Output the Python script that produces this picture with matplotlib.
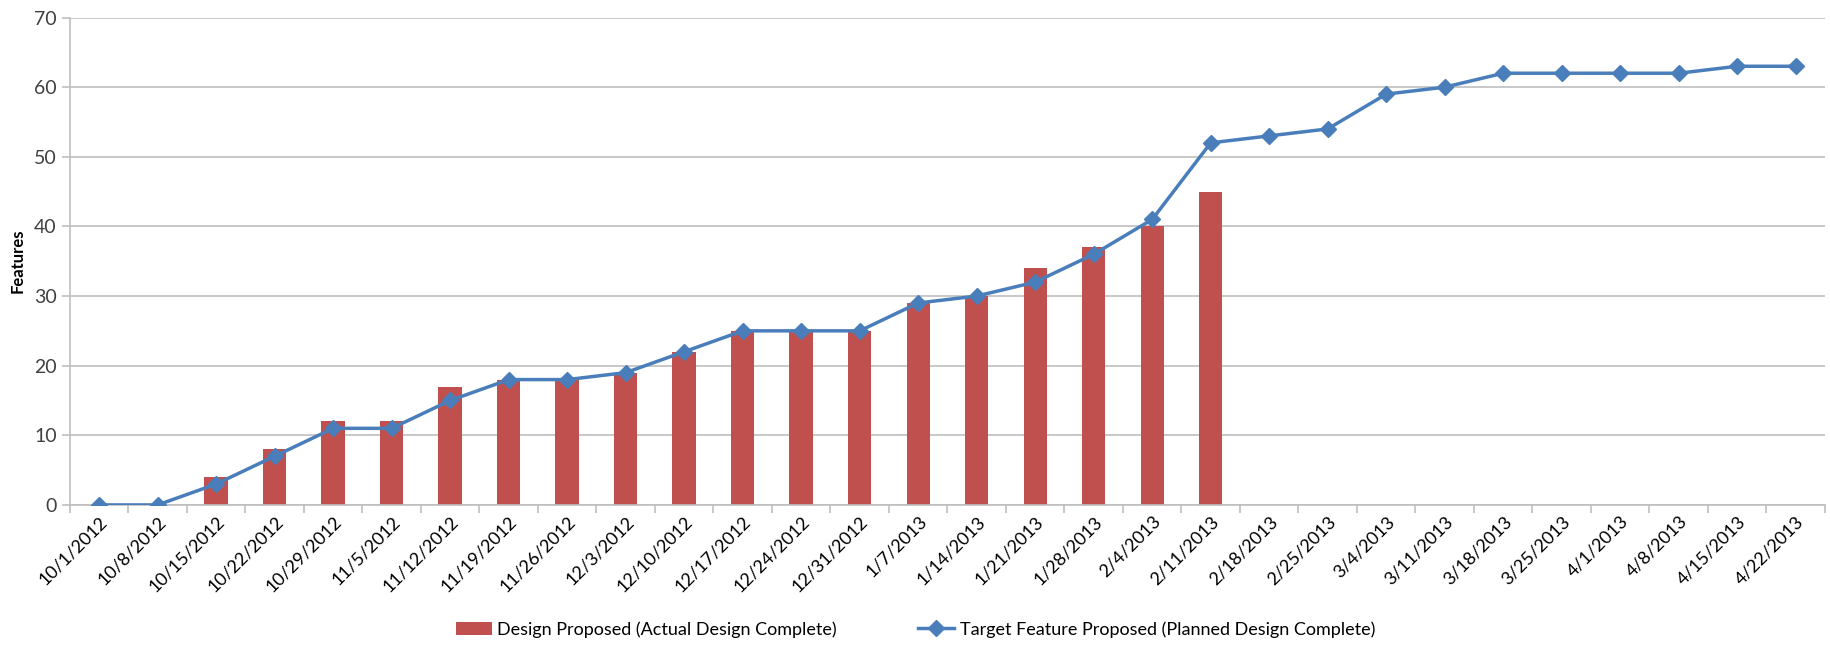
import numpy as np
import matplotlib.pyplot as plt
from matplotlib.ticker import FixedLocator

plt.rcParams['font.family'] = ['Lato', 'DejaVu Sans']

weeks = ['10/1/2012', '10/8/2012', '10/15/2012', '10/22/2012', '10/29/2012', '11/5/2012',
         '11/12/2012', '11/19/2012', '11/26/2012', '12/3/2012', '12/10/2012', '12/17/2012',
         '12/24/2012', '12/31/2012', '1/7/2013', '1/14/2013', '1/21/2013', '1/28/2013',
         '2/4/2013', '2/11/2013', '2/18/2013', '2/25/2013', '3/4/2013', '3/11/2013',
         '3/18/2013', '3/25/2013', '4/1/2013', '4/8/2013', '4/15/2013', '4/22/2013']

# actual design complete (bars), only up to 2/11/2013
actual = [0, 0, 4, 8, 12, 12, 17, 18, 18, 19, 22, 25, 25, 25, 29, 30, 34, 37, 40, 45]

# planned design complete (line)
planned = [0, 0, 3, 7, 11, 11, 15, 18, 18, 19, 22, 25, 25, 25, 29, 30, 32, 36, 41, 52,
           53, 54, 59, 60, 62, 62, 62, 62, 63, 63]

bar_color = '#C0504D'
line_color = '#4A7EBB'
grid_color = '#BFBFBF'

fig = plt.figure(figsize=(18.31, 6.49), dpi=100)
ax = fig.add_axes([0.0382, 0.222, 0.9585, 0.751])

x = np.arange(len(weeks))
bars = ax.bar(x[:len(actual)], actual, width=0.4, color=bar_color, zorder=2,
              label='Design Proposed (Actual Design Complete)')
line, = ax.plot(x, planned, color=line_color, lw=2.5, marker='D', markersize=8,
                zorder=3, label='Target Feature Proposed (Planned Design Complete)')

ax.set_xlim(-0.5, len(weeks) - 0.5)
ax.set_ylim(0, 70)
ax.set_yticks(range(0, 71, 10))
ax.yaxis.grid(True, color=grid_color, lw=1.2, zorder=0)

ax.set_xticks(x)
ax.set_xticklabels(weeks, rotation=45, ha='right', rotation_mode='anchor', fontsize=13)
ax.tick_params(axis='x', which='major', length=0, pad=6)
ax.xaxis.set_minor_locator(FixedLocator(np.arange(-0.5, len(weeks), 1)))
ax.tick_params(axis='x', which='minor', length=6, color=grid_color, width=1.2)
ax.tick_params(axis='y', length=6, color=grid_color, width=1.2, labelsize=14,
               labelcolor='#404040')

for s in ['top', 'right']:
    ax.spines[s].set_visible(False)
for s in ['left', 'bottom']:
    ax.spines[s].set_color(grid_color)
    ax.spines[s].set_linewidth(1.2)

ax.set_ylabel('Features', fontsize=12, fontweight='bold', labelpad=6)

fig.legend([bars, line], [bars.get_label(), line.get_label()],
           loc='center', bbox_to_anchor=(0.5, 0.03), ncol=2, frameon=False,
           fontsize=13, columnspacing=4.5, handlelength=2.0, handletextpad=0.3)

fig.savefig('out.png', dpi=100)
